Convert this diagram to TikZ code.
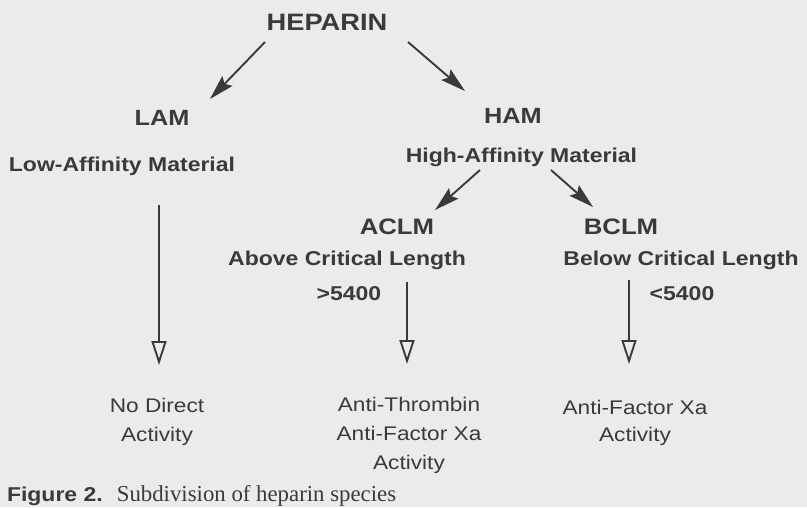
\documentclass[tikz,border=0pt]{standalone}
\usepackage{fontspec}
\usetikzlibrary{arrows.meta,calc}
\newfontfamily\labfont[FakeStretch=1.15]{Liberation Sans}
\newfontfamily\capserif{Liberation Serif}
\definecolor{ink}{HTML}{3A3A3A}
\definecolor{paper}{HTML}{EBEBEB}
\begin{document}
\begin{tikzpicture}[x=1pt,y=-1pt,
  every node/.style={inner sep=0pt,outer sep=0pt,text=ink},
  big/.style={anchor=base,font=\labfont\bfseries\fontsize{22}{26}\selectfont},
  sub/.style={anchor=base,font=\labfont\bfseries\fontsize{20}{24}\selectfont},
  act/.style={anchor=base,align=center,font=\labfont\fontsize{19.7}{29}\selectfont},
  fillarrow/.style={draw=ink,line width=1.9pt,-{Stealth[length=25pt,width=14pt,inset=4pt]}},
  openarrow/.style={draw=ink,line width=1.9pt,-{Triangle[open,length=24pt,width=15pt,fill=paper]}}]
\useasboundingbox (0,0) rectangle (807,507);
\fill[paper] (0,0) rectangle (807,507);
% nodes
\node[big,font=\labfont\bfseries\fontsize{23.7}{28}\selectfont] (hep) at (327,30) {HEPARIN};
\node[big] (lam) at (162,125) {LAM};
\node[big] (ham) at (513,123) {HAM};
\node[sub] (loaff) at (122,171) {Low-Affinity Material};
\node[sub] (hiaff) at (521.5,162) {High-Affinity Material};
\node[big,font=\labfont\bfseries\fontsize{22.4}{26}\selectfont] (aclm) at (397,234) {ACLM};
\node[big,font=\labfont\bfseries\fontsize{22.4}{26}\selectfont] (bclm) at (621,234) {BCLM};
\node[sub] (above) at (347,265) {Above Critical Length};
\node[sub] (below) at (681,265) {Below Critical Length};
\node[sub] (gt) at (349,300) {>5400};
\node[sub] (lt) at (682,300) {<5400};
% multi-line nodes: base anchor is the baseline of the last line
\node[act] (noact) at (157,441) {No Direct\\Activity};
\node[act] (thromb) at (409,469) {Anti-Thrombin\\Anti-Factor Xa\\Activity};
\node[act,font=\labfont\fontsize{19.7}{27}\selectfont] (xa) at (635,441) {Anti-Factor Xa\\Activity};
% caption
\node[anchor=base west] (cap) at (7,501) {{\labfont\bfseries\fontsize{20}{24}\selectfont Figure 2.}\hspace{14pt}{\capserif\fontsize{22.8}{26}\selectfont Subdivision of heparin species}};
% connectors
\draw[fillarrow] ($(hep.base)+(-62,12)$) -- ($(lam.base)+(48,-26)$);
\draw[fillarrow] ($(hep.base)+(81,12)$) -- ($(ham.base)+(-48,-32)$);
\draw[fillarrow] ($(hiaff.base)+(-41.5,8)$) -- ($(aclm.base)+(38,-24)$);
\draw[fillarrow] ($(hiaff.base)+(29.5,8)$) -- ($(bclm.base)+(-28,-27)$);
\draw[openarrow] ($(loaff.base)+(37,34)$) -- ($(noact.base)+(2,-76)$);
\draw[openarrow] ($(gt.base)+(58,-18)$) -- ($(thromb.base)+(-2,-105)$);
\draw[openarrow] ($(lt.base)+(-53,-20)$) -- ($(xa.base)+(-6,-77)$);
\end{tikzpicture}
\end{document}
